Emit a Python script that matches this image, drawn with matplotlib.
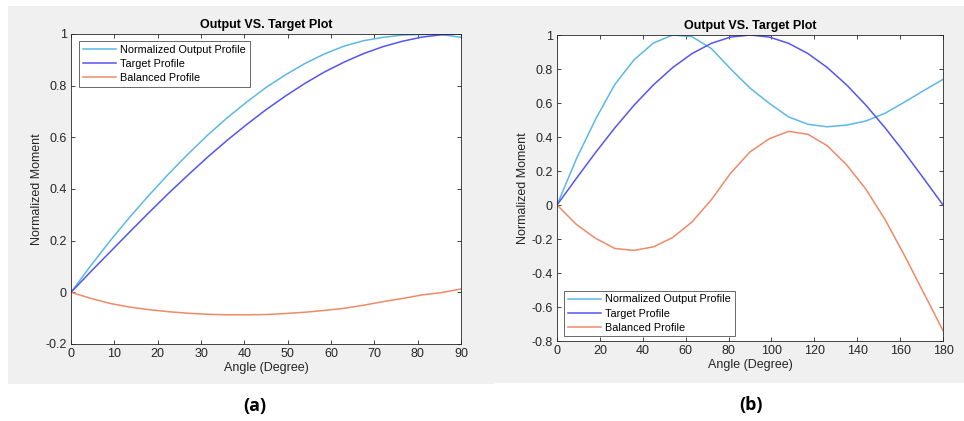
import matplotlib.pyplot as plt
from matplotlib.patches import Rectangle

plt.rcParams['font.family'] = ['Liberation Sans', 'DejaVu Sans']

# (a) 0-90 deg sweep
angle_a = [0, 4.5, 9, 13.5, 18, 22.5, 27, 31.5, 36, 40.5, 45,
           49.5, 54, 58.5, 63, 67.5, 72, 76.5, 81, 85.5, 90]
output_a = [0, 0.102, 0.199, 0.290, 0.376, 0.458, 0.535, 0.608, 0.675, 0.736, 0.793,
            0.842, 0.886, 0.923, 0.953, 0.974, 0.987, 0.996, 0.998, 0.998, 0.987]
target_a = [0, 0.079, 0.156, 0.233, 0.309, 0.383, 0.454, 0.523, 0.588, 0.649, 0.707,
            0.760, 0.809, 0.853, 0.891, 0.924, 0.951, 0.972, 0.988, 0.997, 1.0]
balanced_a = [0, -0.023, -0.043, -0.057, -0.067, -0.075, -0.081, -0.085, -0.087, -0.087, -0.086,
              -0.082, -0.077, -0.070, -0.062, -0.050, -0.036, -0.024, -0.010, -0.001, 0.013]

# (b) 0-180 deg sweep
angle_b = [0, 9, 18, 27, 36, 45, 54, 63, 72, 81, 90,
           99, 108, 117, 126, 135, 144, 153, 162, 171, 180]
output_b = [0, 0.27, 0.505, 0.71, 0.855, 0.953, 1.0, 0.99, 0.92, 0.80, 0.688,
            0.598, 0.518, 0.475, 0.460, 0.470, 0.494, 0.540, 0.605, 0.673, 0.739]
target_b = [0, 0.156, 0.309, 0.454, 0.588, 0.707, 0.809, 0.891, 0.951, 0.988, 1.0,
            0.988, 0.951, 0.891, 0.809, 0.707, 0.588, 0.454, 0.309, 0.156, 0]
balanced_b = [0, -0.114, -0.196, -0.256, -0.267, -0.246, -0.191, -0.099, 0.031, 0.188, 0.312,
              0.390, 0.433, 0.416, 0.349, 0.237, 0.094, -0.086, -0.296, -0.517, -0.739]

labels = ['Normalized Output Profile', 'Target Profile', 'Balanced Profile']
colors = ['#5cb8e4', '#5555f2', '#ee8a68']

W, H = 964, 421
fig = plt.figure(figsize=(W / 100, H / 100), dpi=100)


def px_rect(x0, y0, x1, y1):
    return [x0 / W, 1 - y1 / H, (x1 - x0) / W, (y1 - y0) / H]


# grey figure backgrounds, kept behind the axes
for x0, y0, x1, y1 in [(8, 6, 495, 384), (495, 6, 964, 383)]:
    l, b, w, h = px_rect(x0, y0, x1, y1)
    fig.patches.append(Rectangle((l, b), w, h, transform=fig.transFigure,
                                 facecolor='#f0f0f0', edgecolor='none', zorder=-5))


def draw(ax, x, series, xlim, ylim, xticks, yticks, legend_loc, legend_anchor):
    for y, c, lab in zip(series, colors, labels):
        ax.plot(x, y, color=c, lw=1.1, label=lab)
    ax.set_xlim(xlim)
    ax.set_ylim(ylim)
    ax.set_xticks(xticks)
    ax.set_yticks(yticks)
    ax.set_yticklabels(['%g' % v for v in yticks])
    ax.tick_params(direction='in', top=True, right=True, length=3, width=0.6,
                   colors='#262626', labelsize=9, pad=3)
    for s in ax.spines.values():
        s.set_color('#262626')
        s.set_linewidth(0.6)
    ax.set_title('Output VS. Target Plot', fontsize=9, fontweight='bold', pad=4)
    ax.set_xlabel('Angle (Degree)', fontsize=9, color='#262626', labelpad=1)
    ax.set_ylabel('Normalized Moment', fontsize=9, color='#262626', labelpad=2)
    leg = ax.legend(loc=legend_loc, bbox_to_anchor=legend_anchor, fontsize=7.8,
                    frameon=True, fancybox=False, borderpad=0.35, labelspacing=0.38,
                    handlelength=3.1, handletextpad=0.35, borderaxespad=0)
    leg.get_frame().set_edgecolor('#262626')
    leg.get_frame().set_linewidth(0.6)


ax1 = fig.add_axes(px_rect(71, 34, 461, 344))
draw(ax1, angle_a, [output_a, target_a, balanced_a], (0, 90), (-0.2, 1),
     range(0, 91, 10), [-0.2, 0, 0.2, 0.4, 0.6, 0.8, 1],
     'upper left', (0.02, 0.978))

ax2 = fig.add_axes(px_rect(557, 35, 943, 341))
draw(ax2, angle_b, [output_b, target_b, balanced_b], (0, 180), (-0.8, 1),
     range(0, 181, 20), [-0.8, -0.6, -0.4, -0.2, 0, 0.2, 0.4, 0.6, 0.8, 1],
     'lower left', (0.018, 0.015))

fig.text(255 / W, 1 - 406 / H, '(a)', fontsize=13, fontweight='bold',
         family=['Open Sans', 'DejaVu Sans'], ha='center', va='center')
fig.text(751 / W, 1 - 405 / H, '(b)', fontsize=13, fontweight='bold',
         family=['Open Sans', 'DejaVu Sans'], ha='center', va='center')

fig.savefig('out.png', dpi=100, facecolor='white')
